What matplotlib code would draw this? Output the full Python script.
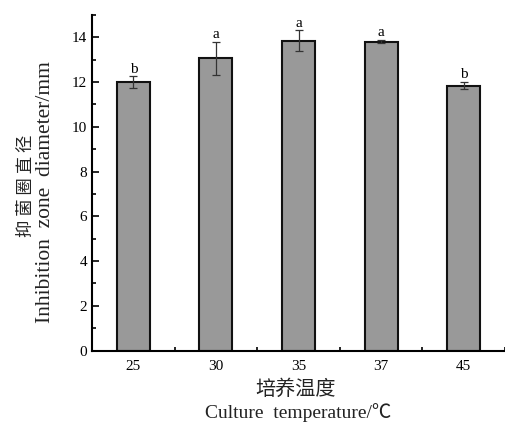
import matplotlib
matplotlib.use("Agg")
from matplotlib import pyplot as plt
from matplotlib.ticker import MultipleLocator, FixedLocator
import numpy as np

temps = ["25", "30", "35", "37", "45"]
diam = [12.0, 13.05, 13.85, 13.8, 11.84]
err = [0.25, 0.75, 0.45, 0.07, 0.16]
sig = ["b", "a", "a", "a", "b"]

serif = ["Liberation Serif", "Noto Sans CJK SC", "DejaVu Sans"]
cjk = ["Noto Sans CJK SC", "DejaVu Sans"]
plt.rcParams['font.family'] = serif

fig = plt.figure(figsize=(5.06, 4.23), dpi=100)
ax = fig.add_axes([0.182, 0.171, 0.816, 0.794])

x = np.arange(len(temps))
ax.bar(x, diam, width=0.4, color="#999999", edgecolor="#111111", linewidth=1.5, zorder=2)
ax.errorbar(x, diam, yerr=err, fmt="none", ecolor="#333333", elinewidth=0.9,
            capsize=2.8, capthick=0.9, zorder=3)

# significance letters above error bars
for xi, v, e, s in zip(x, diam, err, sig):
    ax.text(xi, v + e + 0.03, s, ha="center", va="bottom", fontsize=11)

ax.set_xlim(-0.5, 4.5)
ax.set_ylim(0, 15)
ax.set_xticks(x)
ax.set_xticklabels(temps)
ax.xaxis.set_minor_locator(FixedLocator(np.arange(-0.5, 4.6, 1.0)))
ax.yaxis.set_major_locator(MultipleLocator(2))
ax.yaxis.set_minor_locator(MultipleLocator(1))
ax.tick_params(which="both", direction="in", width=1.2, labelsize=11)
ax.tick_params(which="major", length=5)
ax.tick_params(which="minor", length=3)
ax.tick_params(axis="x", pad=7)

for sp in ["top", "right"]:
    ax.spines[sp].set_visible(False)
for sp in ["left", "bottom"]:
    ax.spines[sp].set_linewidth(1.5)

# axis titles: Chinese line + English line
fig.text(0.052, 0.56, "抑 菌 圈 直 径", rotation=90, ha="center", va="center",
         fontsize=12.5, family=cjk, color="#222222")
fig.text(0.09, 0.546, "Inhibition  zone  diameter/mm", rotation=90,
         ha="center", va="center", fontsize=15.5, color="#222222")
fig.text(0.585, 0.08, "培养温度", ha="center", va="center",
         fontsize=14.5, family=cjk, color="#222222")
fig.text(0.59, 0.024, "Culture  temperature/℃", ha="center", va="center",
         fontsize=14, color="#222222")

fig.savefig("out.png", dpi=100)
